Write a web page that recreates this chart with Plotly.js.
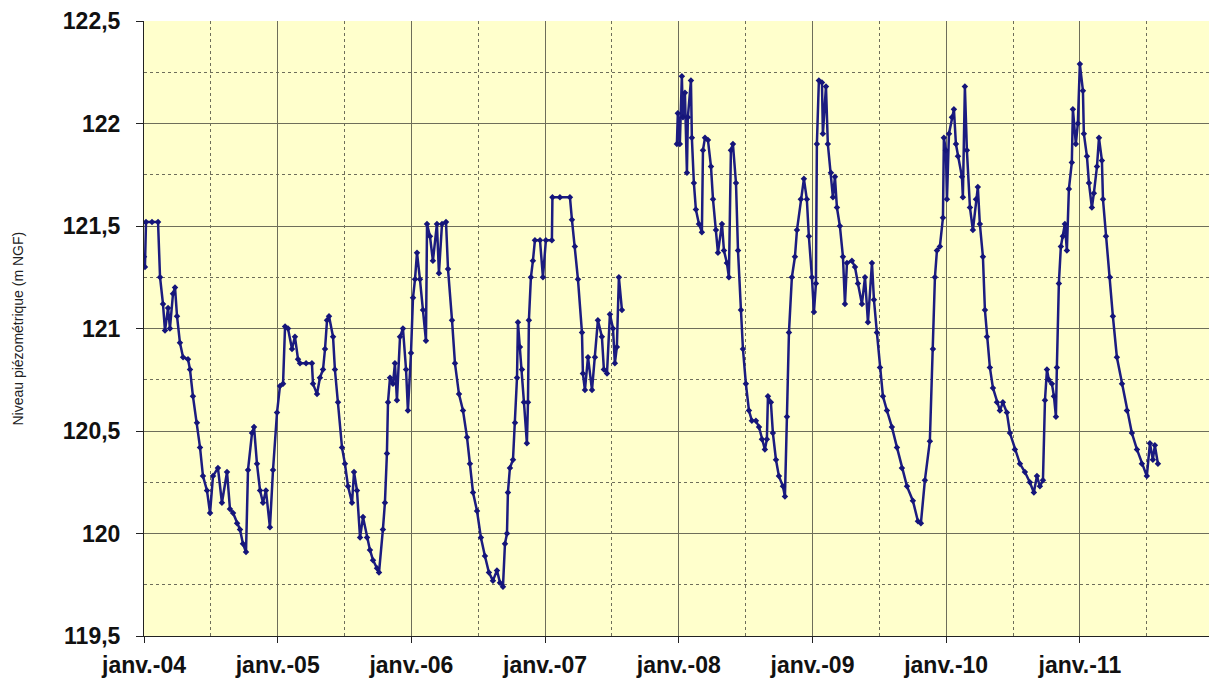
<!DOCTYPE html>
<html>
<head>
<meta charset="utf-8">
<script src="https://cdn.plot.ly/plotly-3.0.1.min.js"></script>
<style>html,body{margin:0;padding:0;background:#fff;}#chart{width:1209px;height:682px;}</style>
</head>
<body>
<div id="chart"></div>
<script>
// Dates as decimal years; null marks the gap in the record (Aug 2007 - Dec 2007)
const dates = [
2004.000,2004.007,2004.015,2004.060,2004.105,2004.120,2004.142,2004.157,2004.180,2004.194,
2004.217,2004.232,2004.247,2004.269,2004.292,2004.329,2004.344,2004.366,2004.396,2004.419,
2004.441,2004.471,2004.494,2004.516,2004.553,2004.583,2004.621,2004.643,2004.666,2004.696,
2004.718,2004.740,2004.763,2004.778,2004.808,2004.823,2004.845,2004.868,2004.890,2004.912,
2004.942,2004.965,2004.995,2005.017,2005.040,2005.055,2005.077,2005.107,2005.129,2005.152,
2005.167,2005.212,2005.256,2005.264,2005.294,2005.316,2005.339,2005.354,2005.369,2005.384,
2005.414,2005.428,2005.451,2005.481,2005.503,2005.526,2005.556,2005.571,2005.593,2005.616,
2005.638,2005.668,2005.690,2005.713,2005.743,2005.758,2005.787,2005.802,2005.817,2005.825,
2005.840,2005.862,2005.877,2005.892,2005.915,2005.937,2005.960,2005.974,2005.997,2006.012,
2006.027,2006.042,2006.064,2006.087,2006.109,2006.117,2006.139,2006.161,2006.191,2006.206,
2006.229,2006.259,2006.274,2006.304,2006.326,2006.356,2006.386,2006.416,2006.438,2006.461,
2006.491,2006.520,2006.550,2006.580,2006.610,2006.640,2006.663,2006.685,2006.700,2006.715,
2006.722,2006.737,2006.760,2006.775,2006.790,2006.797,2006.812,2006.827,2006.842,2006.864,
2006.872,2006.879,2006.894,2006.909,2006.924,2006.962,2006.984,2007.006,2007.051,2007.055,
2007.111,2007.186,2007.201,2007.223,2007.246,2007.276,2007.283,2007.298,2007.321,2007.351,
2007.373,2007.395,2007.425,2007.440,2007.463,2007.485,2007.508,2007.522,2007.537,2007.552,
2007.575,
2007.800,
2007.986,2007.993,2008.008,2008.023,2008.031,2008.046,2008.061,2008.068,2008.091,2008.098,
2008.113,2008.128,2008.151,2008.173,2008.181,2008.196,2008.218,2008.241,2008.256,2008.278,
2008.293,2008.323,2008.338,2008.360,2008.375,2008.390,2008.405,2008.428,2008.443,2008.465,
2008.480,2008.502,2008.525,2008.547,2008.577,2008.600,2008.622,2008.644,2008.659,2008.667,
2008.689,2008.704,2008.727,2008.749,2008.779,2008.794,2008.809,2008.824,2008.846,2008.869,
2008.884,2008.913,2008.936,2008.958,2008.973,2008.996,2009.011,2009.026,2009.033,2009.048,
2009.071,2009.078,2009.101,2009.115,2009.138,2009.153,2009.168,2009.183,2009.205,2009.228,
2009.243,2009.258,2009.295,2009.318,2009.340,2009.370,2009.393,2009.415,2009.445,2009.460,
2009.482,2009.505,2009.527,2009.557,2009.594,2009.632,2009.669,2009.707,2009.751,2009.789,
2009.811,2009.841,2009.878,2009.901,2009.916,2009.931,2009.953,2009.976,2009.983,2009.998,
2010.006,2010.021,2010.043,2010.058,2010.073,2010.088,2010.118,2010.125,2010.140,2010.155,
2010.178,2010.200,2010.223,2010.237,2010.252,2010.275,2010.290,2010.305,2010.327,2010.350,
2010.380,2010.402,2010.424,2010.454,2010.477,2010.514,2010.552,2010.589,2010.626,2010.656,
2010.679,2010.701,2010.724,2010.739,2010.754,2010.768,2010.791,2010.806,2010.821,2010.828,
2010.843,2010.858,2010.873,2010.888,2010.903,2010.918,2010.940,2010.948,2010.970,2010.985,
2011.000,2011.023,2011.030,2011.053,2011.068,2011.090,2011.105,2011.128,2011.143,2011.165,
2011.173,2011.195,2011.225,2011.247,2011.277,2011.315,2011.352,2011.389,2011.427,2011.464,
2011.501,2011.524,2011.546,2011.561,2011.584
];

const niveau = [
121.35,121.30,121.52,121.52,121.52,121.25,121.12,120.99,121.10,121.00,
121.17,121.20,121.06,120.93,120.86,120.85,120.80,120.67,120.54,120.42,
120.28,120.21,120.10,120.28,120.32,120.15,120.30,120.12,120.10,120.05,
120.02,119.95,119.91,120.31,120.49,120.52,120.34,120.21,120.15,120.21,
120.03,120.31,120.59,120.72,120.73,121.01,121.00,120.90,120.96,120.85,
120.83,120.83,120.83,120.73,120.68,120.76,120.80,120.90,121.04,121.06,
120.96,120.80,120.64,120.42,120.34,120.23,120.15,120.30,120.21,119.98,
120.08,119.98,119.92,119.87,119.83,119.81,120.02,120.15,120.39,120.64,
120.76,120.73,120.83,120.65,120.96,121.00,120.80,120.60,120.88,121.15,
121.24,121.37,121.24,121.09,120.94,121.51,121.45,121.33,121.51,121.27,
121.51,121.52,121.29,121.04,120.83,120.68,120.60,120.47,120.34,120.20,
120.11,119.98,119.89,119.81,119.77,119.82,119.76,119.74,119.95,120.00,
120.20,120.32,120.36,120.54,120.76,121.03,120.91,120.80,120.64,120.44,
120.64,121.04,121.25,121.33,121.43,121.43,121.25,121.43,121.43,121.64,
121.64,121.64,121.53,121.40,121.24,120.98,120.78,120.70,120.86,120.70,
120.86,121.04,120.96,120.80,120.78,121.07,121.00,120.83,120.91,121.25,
121.09,
null,
121.90,122.05,121.90,122.23,122.03,122.15,121.76,122.03,122.21,121.93,
121.71,121.58,121.51,121.47,121.87,121.93,121.92,121.79,121.63,121.48,
121.37,121.51,121.38,121.32,121.25,121.87,121.90,121.71,121.38,121.09,
120.90,120.73,120.60,120.55,120.55,120.52,120.46,120.41,120.46,120.67,
120.64,120.49,120.36,120.28,120.23,120.18,120.57,120.98,121.25,121.35,
121.48,121.63,121.73,121.63,121.45,121.25,121.08,121.22,121.90,122.21,
122.20,121.95,122.18,121.90,121.76,121.64,121.74,121.59,121.50,121.35,
121.12,121.32,121.33,121.30,121.22,121.12,121.25,121.03,121.32,121.14,
120.98,120.81,120.67,120.60,120.52,120.42,120.32,120.23,120.16,120.06,
120.05,120.26,120.45,120.90,121.25,121.38,121.40,121.54,121.93,121.87,
121.63,121.95,122.03,122.07,121.90,121.84,121.74,121.64,122.18,121.87,
121.59,121.48,121.63,121.69,121.51,121.35,121.09,120.96,120.81,120.71,
120.64,120.60,120.64,120.59,120.49,120.41,120.34,120.30,120.25,120.20,
120.28,120.23,120.26,120.65,120.80,120.75,120.73,120.67,120.57,120.81,
121.22,121.40,121.45,121.51,121.38,121.68,121.81,122.07,121.90,122.00,
122.29,122.16,121.95,121.84,121.71,121.59,121.66,121.79,121.93,121.82,
121.63,121.45,121.25,121.06,120.86,120.73,120.60,120.49,120.41,120.34,
120.28,120.44,120.36,120.43,120.34
];

const xTickVals = [2004, 2005, 2006, 2007, 2008, 2009, 2010, 2011];
const xTickText = ['janv.-04','janv.-05','janv.-06','janv.-07','janv.-08','janv.-09','janv.-10','janv.-11'];
const yTickVals = [119.5, 120, 120.5, 121, 121.5, 122, 122.5];
const yTickText = ['119,5','120','120,5','121','121,5','122','122,5'];

const tickFont = {family: 'Liberation Sans, Arial, sans-serif', size: 23, color: '#111', weight: 700};
const gridCol = '#6e6e5a';

const trace = {
  x: dates, y: niveau,
  type: 'scatter', mode: 'lines+markers',
  connectgaps: false,
  line: {color: '#1c1c80', width: 2.5},
  marker: {color: '#15157a', size: 5, symbol: 'diamond'},
  hoverinfo: 'x+y'
};

const layout = {
  width: 1209, height: 682,
  margin: {l: 144, r: 0, t: 21, b: 46, pad: 0},
  paper_bgcolor: '#ffffff',
  plot_bgcolor: '#ffffcc',
  showlegend: false,
  xaxis: {
    type: 'linear',
    range: [2004, 2011.966],
    tickvals: xTickVals, ticktext: xTickText,
    tickfont: tickFont,
    ticks: 'outside', ticklen: 6, tickcolor: '#222', tickwidth: 1,
    ticklabelstandoff: 2,
    showgrid: true, gridcolor: gridCol, gridwidth: 1,
    minor: {dtick: 0.5, tick0: 2004, showgrid: true, gridcolor: gridCol, griddash: 'dot', gridwidth: 1, ticks: ''},
    showline: true, linecolor: '#222', linewidth: 1,
    zeroline: false, fixedrange: true
  },
  yaxis: {
    range: [119.5, 122.5],
    tickvals: yTickVals, ticktext: yTickText,
    tickfont: tickFont,
    ticks: 'outside', ticklen: 7, tickcolor: '#222', tickwidth: 1,
    ticklabelstandoff: 11,
    showgrid: true, gridcolor: gridCol, gridwidth: 1,
    minor: {dtick: 0.25, tick0: 119.5, showgrid: true, gridcolor: gridCol, griddash: 'dot', gridwidth: 1, ticks: ''},
    showline: true, linecolor: '#222', linewidth: 1,
    zeroline: false, fixedrange: true
  },
  annotations: [{
    text: 'Niveau piézométrique (m NGF)',
    xref: 'paper', yref: 'paper',
    x: -0.1192, y: 0.5, xanchor: 'center', yanchor: 'middle',
    textangle: -90, showarrow: false,
    font: {family: 'Liberation Sans, Arial, sans-serif', size: 14, color: '#222'}
  }]
};

Plotly.newPlot('chart', [trace], layout, {displayModeBar: false, staticPlot: true});
</script>
</body>
</html>
